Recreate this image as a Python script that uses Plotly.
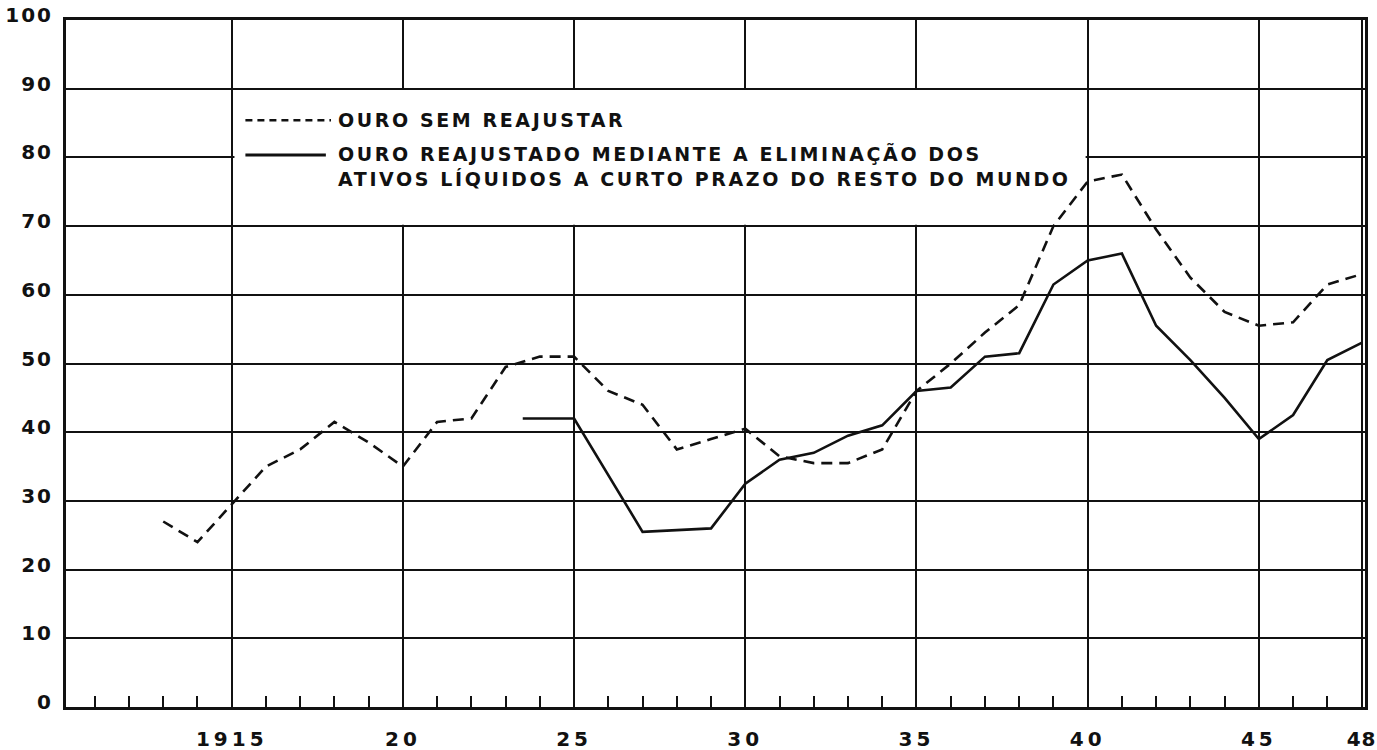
import plotly.graph_objects as go

# ---- data ----
years_raw = [1913, 1914, 1915, 1916, 1917, 1918, 1919, 1920, 1921, 1922, 1923, 1924, 1925,
             1926, 1927, 1928, 1929, 1930, 1931, 1932, 1933, 1934, 1935, 1936, 1937, 1938,
             1939, 1940, 1941, 1942, 1943, 1944, 1945, 1946, 1947, 1948]
gold_raw = [27, 24, 29.5, 35, 37.5, 41.5, 38.5, 35, 41.5, 42, 49.5, 51, 51,
            46, 44, 37.5, 39, 40.5, 36.5, 35.5, 35.5, 37.5, 46, 50, 54.5, 58.5,
            70, 76.5, 77.5, 69.5, 62.5, 57.5, 55.5, 56, 61.5, 63]

years_adj = [1923.5, 1925, 1927, 1929, 1930, 1931, 1932, 1933, 1934, 1935, 1936, 1937, 1938,
             1939, 1940, 1941, 1942, 1943, 1944, 1945, 1946, 1947, 1948]
gold_adj = [42, 42, 25.5, 26, 32.5, 36, 37, 39.5, 41, 46, 46.5, 51, 51.5,
            61.5, 65, 66, 55.5, 50.5, 45, 39, 42.5, 50.5, 53]

x_tickvals = [1915, 1920, 1925, 1930, 1935, 1940, 1945, 1948]
x_ticktext = ["1915", "20", "25", "30", "35", "40", "45", "48"]
y_tickvals = [0, 10, 20, 30, 40, 50, 60, 70, 80, 90, 100]
y_ticktext = ["0", "10", "20", "30", "40", "50", "60", "70", "80", "90", "100"]

legend_labels = ["OURO SEM REAJUSTAR",
                 "OURO REAJUSTADO MEDIANTE A ELIMINAÇÃO DOS",
                 "ATIVOS LÍQUIDOS A CURTO PRAZO DO RESTO DO MUNDO"]

INK = "#111111"
FONT = "DejaVu Sans"

def spaced(t, sp):
    return f"<span style='letter-spacing:{sp}px'>{t}</span>"

fig = go.Figure()
fig.add_trace(go.Scatter(x=years_raw, y=gold_raw, mode="lines",
                         line=dict(color=INK, width=2.6, dash="11px,7px"),
                         showlegend=False))
fig.add_trace(go.Scatter(x=years_adj, y=gold_adj, mode="lines",
                         line=dict(color=INK, width=2.6),
                         showlegend=False))

# white legend panel that interrupts the grid
fig.add_shape(type="rect", xref="x", yref="y", x0=1915.08, x1=1939.94, y0=70.2, y1=89.8,
              fillcolor="white", line=dict(width=0), layer="between")

# legend samples
fig.add_shape(type="line", xref="x", yref="y", x0=1915.4, x1=1917.9, y0=85.4, y1=85.4,
              line=dict(color=INK, width=2.4, dash="7px,5px"), layer="above")
fig.add_shape(type="line", xref="x", yref="y", x0=1915.4, x1=1917.75, y0=80.35, y1=80.35,
              line=dict(color=INK, width=3), layer="above")
for txt, yy in zip(legend_labels, [85.4, 80.5, 76.8]):
    fig.add_annotation(x=1918.05, y=yy, xref="x", yref="y", text=f"<b>{spaced(txt, 2.6)}</b>",
                       showarrow=False, xanchor="left", yanchor="middle",
                       font=dict(family=FONT, size=19, color=INK))

fig.update_layout(
    width=1377, height=750,
    margin=dict(l=66, r=12, t=20, b=43, autoexpand=False),
    paper_bgcolor="white", plot_bgcolor="white",
    font=dict(family=FONT, color=INK),
)
x_text = [f"<b>{spaced(t, 4 if i < len(x_ticktext) - 1 else 1)}</b>"
          for i, t in enumerate(x_ticktext)]
fig.update_xaxes(
    range=[1910.16, 1948.1], automargin=False,
    tickmode="array", tickvals=x_tickvals, ticktext=x_text,
    tickfont=dict(family=FONT, size=20, color=INK),
    ticks="", ticklabelstandoff=12, ticklabeloverflow="allow",
    showgrid=True, gridcolor=INK, gridwidth=2,
    showline=True, linecolor=INK, linewidth=3, mirror=True,
    zeroline=False,
    minor=dict(ticks="inside", tick0=1910, dtick=1, ticklen=11, tickwidth=2,
               tickcolor=INK, showgrid=False),
)
fig.update_yaxes(
    range=[0, 100], automargin=False,
    tickmode="array", tickvals=y_tickvals,
    ticktext=[f"<b>{spaced(t, 2)}</b>" for t in y_ticktext],
    tickfont=dict(family=FONT, size=20, color=INK),
    ticks="", ticklabelstandoff=6, ticklabelshift=-5, ticklabeloverflow="allow",
    showgrid=True, gridcolor=INK, gridwidth=2,
    showline=True, linecolor=INK, linewidth=3, mirror=True,
    zeroline=False,
)

fig.write_html("out.html", config={"displayModeBar": False},
               post_script="document.body.style.margin='0';document.body.style.overflow='hidden';")
